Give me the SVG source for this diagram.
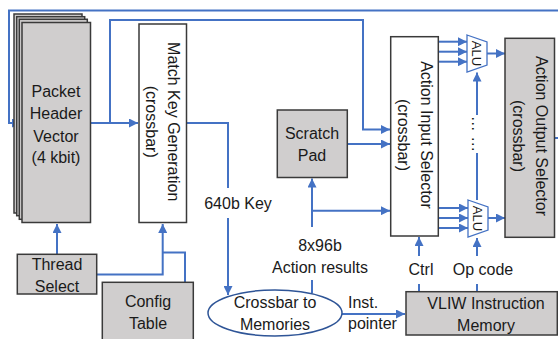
<svg xmlns="http://www.w3.org/2000/svg" width="558" height="339" viewBox="0 0 558 339">
<style>
text{font-family:"Liberation Sans",Arial,sans-serif;font-size:16px;fill:#1a1a1a}
.c{text-anchor:middle}
.g{fill:#d0cece;stroke:#3a3a3a;stroke-width:1.5}
.w{fill:#ffffff;stroke:#3a3a3a;stroke-width:1.5}
.ln{fill:none;stroke:#4472c4;stroke-width:2}
.alu{fill:#ffffff;stroke:#4472c4;stroke-width:1.3}
.s{font-size:13px}
</style>
<defs>
<marker id="ah" viewBox="0 0 10 10" refX="10" refY="5" markerWidth="9" markerHeight="9" orient="auto" markerUnits="userSpaceOnUse">
<path d="M0,0 L10,5 L0,10 z" fill="#4472c4"/>
</marker>
</defs>
<rect width="558" height="339" fill="#ffffff"/>

<g id="connectors">
<path class="ln" d="M555,138 H561 V10.5 H9 V123 H21" marker-end="url(#ah)"/>
<path class="ln" d="M91,123 H138" marker-end="url(#ah)"/>
<path class="ln" d="M110,123 V20 H363 V129.5 H390" marker-end="url(#ah)"/>
<path class="ln" d="M347,144 H390" marker-end="url(#ah)"/>
<path class="ln" d="M187,123 H228 V188"/>
<path class="ln" d="M228,218 V295" marker-end="url(#ah)"/>
<path class="ln" d="M57,254 V224" marker-end="url(#ah)"/>
<path class="ln" d="M97,274.5 H162.7 V224" marker-end="url(#ah)"/>
<path class="ln" d="M185,282 V252.5 H162.7"/>
<path class="ln" d="M312,293 V280"/>
<path class="ln" d="M312,227 V178.5" marker-end="url(#ah)"/>
<path class="ln" d="M312,210.7 H390" marker-end="url(#ah)"/>
<path class="ln" d="M342,314 H405" marker-end="url(#ah)"/>
<path class="ln" d="M419,292 V284"/>
<path class="ln" d="M419,256 V237" marker-end="url(#ah)"/>
<path class="ln" d="M477,292 V284"/>
<path class="ln" d="M477,256 V238" marker-end="url(#ah)"/>
<path class="ln" d="M477,200 V153"/>
<path class="ln" d="M477,115 V72.5" marker-end="url(#ah)"/>
<path class="ln" d="M438.5,41.7 H467" marker-end="url(#ah)"/>
<path class="ln" d="M438.5,51.7 H467" marker-end="url(#ah)"/>
<path class="ln" d="M438.5,61.7 H467" marker-end="url(#ah)"/>
<path class="ln" d="M438.5,208 H468" marker-end="url(#ah)"/>
<path class="ln" d="M438.5,218 H468" marker-end="url(#ah)"/>
<path class="ln" d="M438.5,228 H468" marker-end="url(#ah)"/>
<path class="ln" d="M487,53.5 H505" marker-end="url(#ah)"/>
<path class="ln" d="M488,218 H505" marker-end="url(#ah)"/>
</g>

<g id="phv">
<rect class="g" x="14" y="14" width="68" height="199"/>
<rect class="g" x="16.7" y="16.7" width="68" height="199"/>
<rect class="g" x="19.3" y="19.3" width="68" height="200"/>
<rect class="g" x="22" y="22.5" width="68.5" height="200"/>
<text class="c"><tspan x="56" y="97">Packet</tspan><tspan x="56" y="119">Header</tspan><tspan x="56" y="141.5">Vector</tspan><tspan x="56" y="162.5">(4 kbit)</tspan></text>
</g>

<g id="mkg">
<rect class="w" x="139" y="24" width="47.5" height="198.5"/>
<text class="c" transform="translate(162.8,121.7) rotate(90)"><tspan x="0" y="-5">Match Key Generation</tspan><tspan x="0" y="17">(crossbar)</tspan></text>
</g>

<g id="scratch">
<rect class="g" x="277.3" y="110" width="70" height="67.5"/>
<text class="c"><tspan x="312" y="139">Scratch</tspan><tspan x="312" y="161">Pad</tspan></text>
</g>

<g id="ais">
<rect class="w" x="390.7" y="36.7" width="47.6" height="199.3"/>
<text class="c" transform="translate(414.5,135) rotate(90)"><tspan x="0" y="-6.5">Action Input Selector</tspan><tspan x="0" y="17">(crossbar)</tspan></text>
</g>

<g id="alu1">
<polygon class="alu" points="467,35 487,42 487,65 467,72"/>
<text class="c s" transform="translate(476.5,53.5) rotate(90)" y="4.6">ALU</text>
</g>

<g id="alu2">
<polygon class="alu" points="468,200 488,207 488,230 468,237"/>
<text class="c s" transform="translate(477.5,218.5) rotate(90)" y="4.6">ALU</text>
</g>

<g id="dots">
<text class="c" transform="translate(477,134) rotate(90)" y="5">… …</text>
</g>

<g id="aos">
<rect class="g" x="505" y="38.3" width="49.5" height="199"/>
<text class="c" transform="translate(529.8,136) rotate(90)"><tspan x="0" y="-6.5">Action Output Selector</tspan><tspan x="0" y="17">(crossbar)</tspan></text>
</g>

<g id="thread">
<rect class="g" x="17.3" y="254.3" width="79.4" height="39.7"/>
<text class="c"><tspan x="57" y="270">Thread</tspan><tspan x="57" y="292">Select</tspan></text>
</g>

<g id="config">
<rect class="g" x="102.3" y="282.3" width="91" height="60"/>
<text class="c"><tspan x="148" y="307">Config</tspan><tspan x="148" y="329">Table</tspan></text>
</g>

<g id="crossbar">
<ellipse cx="275" cy="313" rx="67" ry="23" fill="#ffffff" stroke="#2f5597" stroke-width="1.5"/>
<text class="c"><tspan x="275" y="308">Crossbar to</tspan><tspan x="275" y="330">Memories</tspan></text>
</g>

<g id="vliw">
<rect class="g" x="406" y="291.7" width="151.3" height="43.3"/>
<text class="c"><tspan x="486" y="308.5">VLIW Instruction</tspan><tspan x="486" y="331">Memory</tspan></text>
</g>

<g id="labels">
<text class="c" x="238" y="209">640b Key</text>
<text class="c" x="320" y="251">8x96b</text>
<text class="c" x="320" y="272.5">Action results</text>
<text x="348" y="308">Inst.</text>
<text x="348" y="329">pointer</text>
<text class="c" x="421" y="275">Ctrl</text>
<text class="c" x="483" y="274.5">Op code</text>
</g>
</svg>
